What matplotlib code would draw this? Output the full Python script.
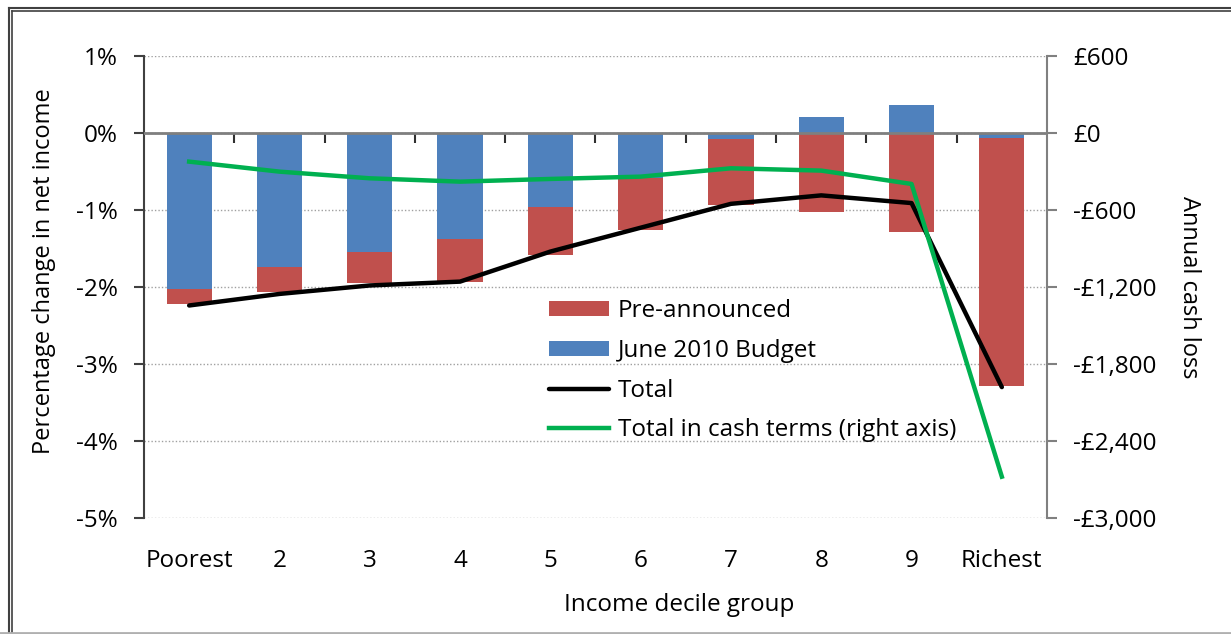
import numpy as np
import matplotlib.pyplot as plt
from matplotlib.lines import Line2D

plt.rcParams['font.family'] = ['Open Sans', 'DejaVu Sans']

deciles = ['Poorest', '2', '3', '4', '5', '6', '7', '8', '9', 'Richest']
budget = [-2.03, -1.74, -1.55, -1.38, -0.96, -0.59, -0.08, 0.21, 0.36, -0.06]
pre_announced = [-0.19, -0.33, -0.40, -0.55, -0.62, -0.67, -0.86, -1.03, -1.28, -3.23]
total_pct = [-2.24, -2.09, -1.98, -1.93, -1.54, -1.23, -0.92, -0.81, -0.91, -3.30]
total_cash = [-223, -301, -353, -379, -358, -340, -275, -293, -397, -2678]

left_ticks = [1, 0, -1, -2, -3, -4, -5]
left_labels = ['1%', '0%', '-1%', '-2%', '-3%', '-4%', '-5%']
right_ticks = [600, 0, -600, -1200, -1800, -2400, -3000]
right_labels = ['£600', '£0', '-£600', '-£1,200', '-£1,800', '-£2,400', '-£3,000']

FS = 17.5
W, H = 1231, 634
fig = plt.figure(figsize=(W / 100, H / 100), dpi=100)
ax = fig.add_axes([144 / W, 1 - 518 / H, (1047 - 144) / W, (518 - 56) / H])

x = np.arange(len(deciles))
budget = np.array(budget)
pre = np.array(pre_announced)
red_base = np.minimum(budget, 0)

ax.bar(x, pre, 0.5, bottom=red_base, color='#C0504D', label='Pre-announced', zorder=2)
ax.bar(x, budget, 0.5, color='#4F81BD', label='June 2010 Budget', zorder=2)
ax.plot(x, total_pct, color='black', lw=3.2, label='Total', zorder=4,
        solid_capstyle='round')

ax.set_xlim(-0.5, len(deciles) - 0.5)
ax.set_ylim(-5, 1)
ax.set_yticks(left_ticks)
ax.set_yticklabels(left_labels)
ax.set_xticks(x)
ax.set_xticklabels(deciles)
ax.tick_params(axis='x', length=0, pad=22, labelsize=FS)
ax.tick_params(axis='y', direction='out', length=7, width=1.5, pad=12,
               labelsize=FS, color='#404040')
ax.yaxis.grid(True, color='#A0A0A0', linestyle=(0, (1, 1.5)), lw=1)
ax.set_axisbelow(True)
ax.axhline(0, color='#7F7F7F', lw=2, zorder=3)
for s in ['top', 'bottom', 'right']:
    ax.spines[s].set_visible(False)
ax.spines['left'].set_color('#404040')
ax.spines['left'].set_linewidth(1.5)

ax.set_ylabel('Percentage change in net income', fontsize=FS - 0.5)
ax.yaxis.set_label_coords(-0.0975, 0.535)
ax.set_xlabel('Income decile group', fontsize=FS)
ax.xaxis.set_label_coords(0.593, -0.163)

# small ticks along the zero line between groups
sec = ax.secondary_xaxis(5 / 6)
sec.set_xticks(x[:-1] + 0.5)
sec.tick_params(axis='x', direction='in', length=7, width=1.5, color='#303030',
                labeltop=False, labelbottom=False)
for s in sec.spines.values():
    s.set_visible(False)

ax2 = ax.twinx()
ax2.plot(x, total_cash, color='#00B050', lw=3.2,
         label='Total in cash terms (right axis)', zorder=5)
ax2.set_ylim(-3000, 600)
ax2.set_yticks(right_ticks)
ax2.set_yticklabels(right_labels)
ax2.tick_params(axis='y', direction='out', length=7, width=1.5, pad=12,
                labelsize=FS, color='#808080')
for s in ['top', 'bottom', 'left']:
    ax2.spines[s].set_visible(False)
ax2.spines['right'].set_color('#808080')
ax2.spines['right'].set_linewidth(1.5)
ax2.set_ylabel('Annual cash loss', fontsize=FS - 0.5, rotation=270)
ax2.yaxis.set_label_coords(1.17, 0.5)

h1, l1 = ax.get_legend_handles_labels()
h2, l2 = ax2.get_legend_handles_labels()
handles = [h1[1], h1[2], h1[0], h2[0]]
labels = [l1[1], l1[2], l1[0], l2[0]]
leg = ax2.legend(handles, labels, loc='upper left', bbox_to_anchor=(0.449, 0.474),
                 frameon=False, fontsize=FS, borderpad=0, borderaxespad=0,
                 handlelength=2.47, handletextpad=0.33, labelspacing=0.65,
                 handleheight=0.55)

# frame lines around the picture
fig.add_artist(Line2D([9 / W, 9 / W], [0, 1 - 8 / H], color='#404040', lw=1.5,
                      transform=fig.transFigure))
fig.add_artist(Line2D([12 / W, 12 / W], [0, 1 - 11 / H], color='#404040', lw=1.2,
                      transform=fig.transFigure))
fig.add_artist(Line2D([9 / W, 1], [1 - 8 / H, 1 - 8 / H], color='#404040', lw=1.5,
                      transform=fig.transFigure))
fig.add_artist(Line2D([12 / W, 1], [1 - 11 / H, 1 - 11 / H], color='#404040', lw=1.2,
                      transform=fig.transFigure))
fig.add_artist(Line2D([0, 1], [1 / H, 1 / H], color='#B0B0B0', lw=2,
                      transform=fig.transFigure))

fig.savefig('out.png', dpi=100)
